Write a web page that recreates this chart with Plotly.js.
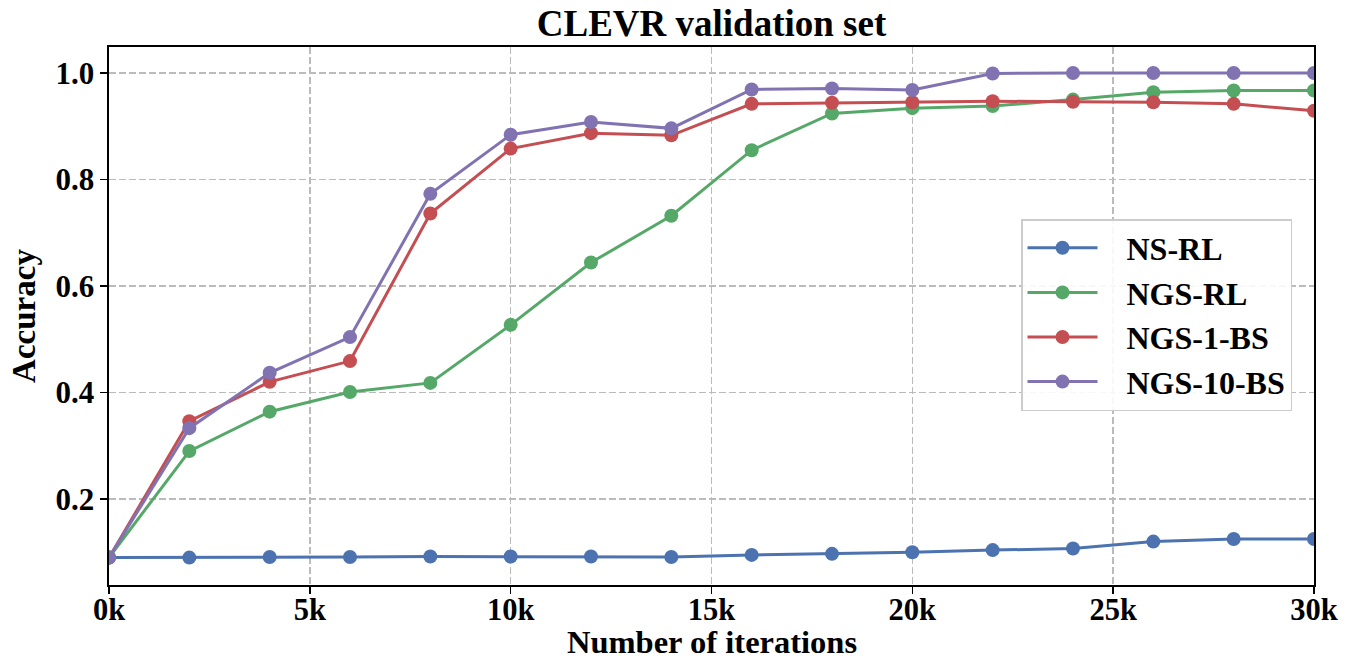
<!DOCTYPE html>
<html>
<head>
<meta charset="utf-8">
<script src="https://cdn.plot.ly/plotly-3.0.1.min.js"></script>
<style>html,body{margin:0;padding:0;background:#fff;}#chart{width:1346px;height:659px;}</style>
</head>
<body>
<div id="chart"></div>
<script>
const iterations = [0, 2000, 4000, 6000, 8000, 10000, 12000, 14000, 16000, 18000, 20000, 22000, 24000, 26000, 28000, 30000];
const nsRL     = [0.090, 0.090, 0.091, 0.091, 0.092, 0.092, 0.092, 0.091, 0.095, 0.097, 0.100, 0.104, 0.107, 0.120, 0.125, 0.125];
const ngsRL    = [0.090, 0.290, 0.364, 0.401, 0.418, 0.527, 0.644, 0.732, 0.855, 0.924, 0.934, 0.938, 0.950, 0.964, 0.967, 0.967];
const ngs1BS   = [0.090, 0.346, 0.420, 0.459, 0.736, 0.858, 0.887, 0.883, 0.942, 0.944, 0.945, 0.947, 0.946, 0.945, 0.942, 0.929];
const ngs10BS  = [0.090, 0.333, 0.437, 0.504, 0.773, 0.884, 0.908, 0.896, 0.969, 0.971, 0.968, 0.999, 1.000, 1.000, 1.000, 1.000];
const seriesNames = ["NS-RL", "NGS-RL", "NGS-1-BS", "NGS-10-BS"];
const xTickVals = [0, 5000, 10000, 15000, 20000, 25000, 30000];
const xTickText = ["0k", "5k", "10k", "15k", "20k", "25k", "30k"];
const yTickVals = [0.2, 0.4, 0.6, 0.8, 1.0];
const yTickText = ["0.2", "0.4", "0.6", "0.8", "1.0"];
const xAxisTitle = "Number of iterations";
const yAxisTitle = "Accuracy";
const chartTitle = "CLEVR validation set";

const colors = ["#4C72B0", "#55A868", "#C44E52", "#8172B2"];
const allSeries = [nsRL, ngsRL, ngs1BS, ngs10BS];
const FONT = "Liberation Serif, Times New Roman, serif";
const NB = "\u00A0\u00A0\u00A0";

const traces = allSeries.map((ys, i) => ({
  x: iterations,
  y: ys,
  name: NB + seriesNames[i],
  legendgroup: "g" + i,
  type: "scatter",
  mode: "lines+markers",
  line: {color: colors[i], width: 3},
  marker: {color: colors[i], size: 14}
}));

const gridDash = "7px,3px";

const layout = {
  width: 1346, height: 659,
  margin: {l: 109, r: 32, t: 47, b: 74},
  paper_bgcolor: "#fff", plot_bgcolor: "#fff",
  font: {family: FONT, color: "#000", size: 30, weight: "bold"},
  title: {
    text: "<b>" + chartTitle + "</b>",
    font: {family: FONT, size: 37, color: "#000"},
    x: 0.5, xref: "paper", xanchor: "center",
    y: 1 - 23/659, yref: "container", yanchor: "middle"
  },
  xaxis: {
    range: [0, 30000],
    tickvals: xTickVals, ticktext: xTickText,
    tickfont: {family: FONT, size: 30.5, color: "#000", weight: "bold"},
    ticklabelstandoff: -10,
    showgrid: true, gridcolor: "#bbbbbb", griddash: gridDash, gridwidth: 1.4,
    showline: true, linecolor: "#000", linewidth: 1.6, mirror: true,
    ticks: "outside", ticklen: 7, tickwidth: 1.5, tickcolor: "#000",
    zeroline: false
  },
  yaxis: {
    range: [0.0385, 1.0488],
    tickvals: yTickVals, ticktext: yTickText,
    tickfont: {family: FONT, size: 31, color: "#000", weight: "bold"},
    showgrid: true, gridcolor: "#bbbbbb", griddash: gridDash, gridwidth: 1.4,
    showline: true, linecolor: "#000", linewidth: 1.6, mirror: true,
    ticks: "outside", ticklen: 7, tickwidth: 1.5, tickcolor: "#000",
    zeroline: false,
    title: {text: "<b>" + yAxisTitle + "</b>", font: {family: FONT, size: 33, color: "#000"}, standoff: 10}
  },
  annotations: [{
    text: "<b>" + xAxisTitle + "</b>",
    xref: "paper", yref: "paper",
    x: 0.5, y: (585 - 642) / 538,
    xanchor: "center", yanchor: "middle",
    height: 32, valign: "middle",
    showarrow: false,
    font: {family: FONT, size: 32.5, color: "#000"}
  }],
  showlegend: true,
  legend: {
    x: (1021 - 109) / 1205, y: (585 - 219) / 538,
    xanchor: "left", yanchor: "top",
    bgcolor: "rgba(255,255,255,0.9)",
    bordercolor: "#cccccc", borderwidth: 1.5,
    font: {family: FONT, size: 32, color: "#000", weight: "bold"},
    itemwidth: 70,
    tracegroupgap: 5,
    traceorder: "normal"
  }
};

Plotly.newPlot("chart", traces, layout, {displayModeBar: false, staticPlot: true});
</script>
</body>
</html>
